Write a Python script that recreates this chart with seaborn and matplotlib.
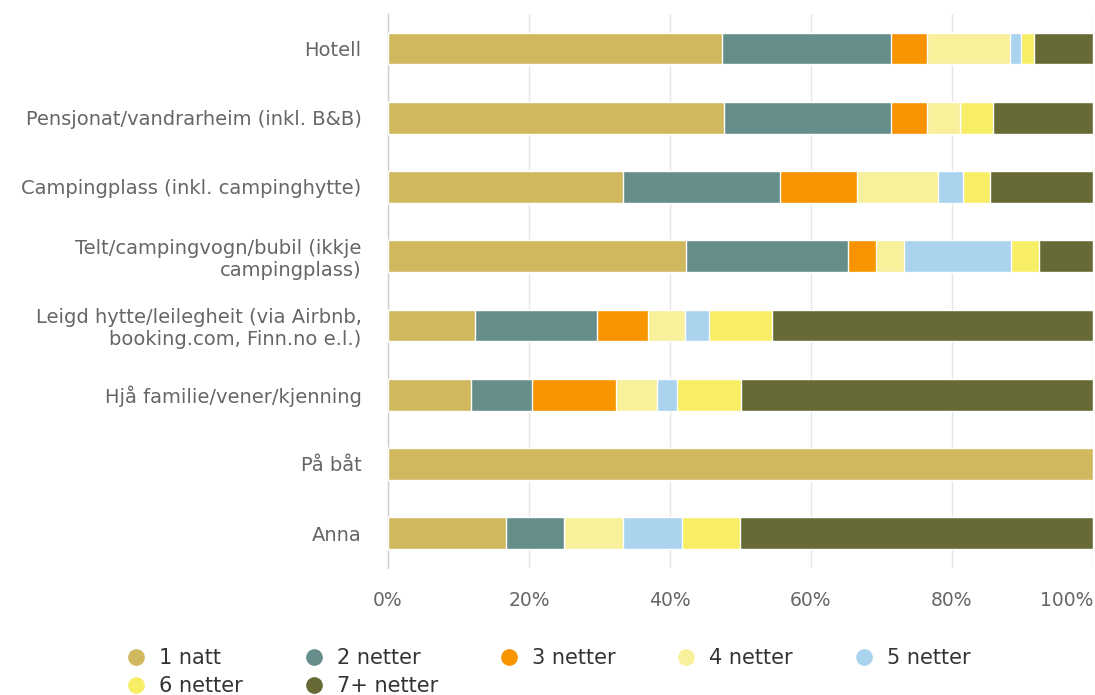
import numpy as np
import pandas as pd
import matplotlib.pyplot as plt
import seaborn as sns
from matplotlib.lines import Line2D

# Kategoriar og delar (prosent) per overnattingsform
kategoriar = [
    "Hotell",
    "Pensjonat/vandrarheim (inkl. B&B)",
    "Campingplass (inkl. campinghytte)",
    "Telt/campingvogn/bubil (ikkje\ncampingplass)",
    "Leigd hytte/leilegheit (via Airbnb,\nbooking.com, Finn.no e.l.)",
    "Hjå familie/vener/kjenning",
    "På båt",
    "Anna",
]
serienamn = ["1 natt", "2 netter", "3 netter", "4 netter", "5 netter", "6 netter", "7+ netter"]

natt_1 = [47.4, 47.6, 33.4, 42.3, 12.3, 11.8, 100.0, 16.7]
netter_2 = [24.0, 23.8, 22.2, 23.0, 17.4, 8.7, 0.0, 8.3]
netter_3 = [5.0, 5.0, 11.0, 3.9, 7.2, 11.8, 0.0, 0.0]
netter_4 = [11.8, 4.7, 11.4, 4.0, 5.2, 5.9, 0.0, 8.3]
netter_5 = [1.6, 0.0, 3.6, 15.2, 3.4, 2.8, 0.0, 8.3]
netter_6 = [1.8, 4.7, 3.8, 4.0, 9.0, 9.1, 0.0, 8.3]
netter_7 = [8.4, 14.2, 14.6, 7.6, 45.5, 49.9, 0.0, 50.0]

fargar = ["#d0b85e", "#658e8b", "#f79400", "#f8f09a", "#aad3ee", "#f8ee66", "#676a35"]

df = pd.DataFrame(
    np.array([natt_1, netter_2, netter_3, netter_4, netter_5, netter_6, netter_7]).T,
    columns=serienamn,
)
df["kategori"] = kategoriar
# normaliser til 100 %
tot = df[serienamn].sum(axis=1)
df[serienamn] = df[serienamn].div(tot, axis=0) * 100
kum = df[serienamn].cumsum(axis=1)

sns.set_style("white")
plt.rcParams["font.family"] = ["DejaVu Sans"]

fig = plt.figure(figsize=(10.95, 6.95), dpi=100)
ax = fig.add_axes([0.3543, 0.183, 0.6438, 0.797])

# stabla søyler: teikn kumulative summar frå lengst til kortast
for namn, farge in reversed(list(zip(serienamn, fargar))):
    sns.barplot(
        x=kum[namn], y=df["kategori"], order=kategoriar, orient="h",
        color=farge, width=0.46, edgecolor="white", linewidth=1.0,
        saturation=1, ax=ax, zorder=3,
    )

ax.set_xlim(0, 100)
ax.set_xticks([0, 20, 40, 60, 80, 100])
ax.set_xticklabels([f"{v}%" for v in range(0, 101, 20)])
ax.get_xticklabels()[-1].set_horizontalalignment("right")
ax.set_xlabel("")
ax.set_ylabel("")
ax.grid(axis="x", color="#e6e6e6", linewidth=1, zorder=0)
ax.grid(axis="y", visible=False)
for s in ["top", "right", "bottom"]:
    ax.spines[s].set_visible(False)
ax.spines["left"].set_color("#cccccc")
ax.spines["left"].set_linewidth(1)
ax.tick_params(axis="both", length=0, colors="#666666")
ax.tick_params(axis="x", pad=17, labelsize=13.5)
ax.tick_params(axis="y", pad=19, labelsize=14)
for t in ax.get_yticklabels():
    t.set_horizontalalignment("right")
    t.set_multialignment("right")

handles = [
    Line2D([], [], marker="o", linestyle="", markersize=11, markerfacecolor=f,
           markeredgecolor=f)
    for f in fargar
]
# rekkjefølgje slik at legenden blir fylt rad for rad
rekkje = [0, 5, 1, 6, 2, 3, 4]
fig.legend(
    [handles[i] for i in rekkje], [serienamn[i] for i in rekkje],
    loc="lower left", bbox_to_anchor=(0.115, -0.002), ncol=5,
    frameon=False, fontsize=15, labelcolor="#333333", handletextpad=0.6,
    columnspacing=2.9, labelspacing=0.4, handlelength=1.0,
    borderpad=0, borderaxespad=0,
)

fig.savefig("out.png", dpi=100)
